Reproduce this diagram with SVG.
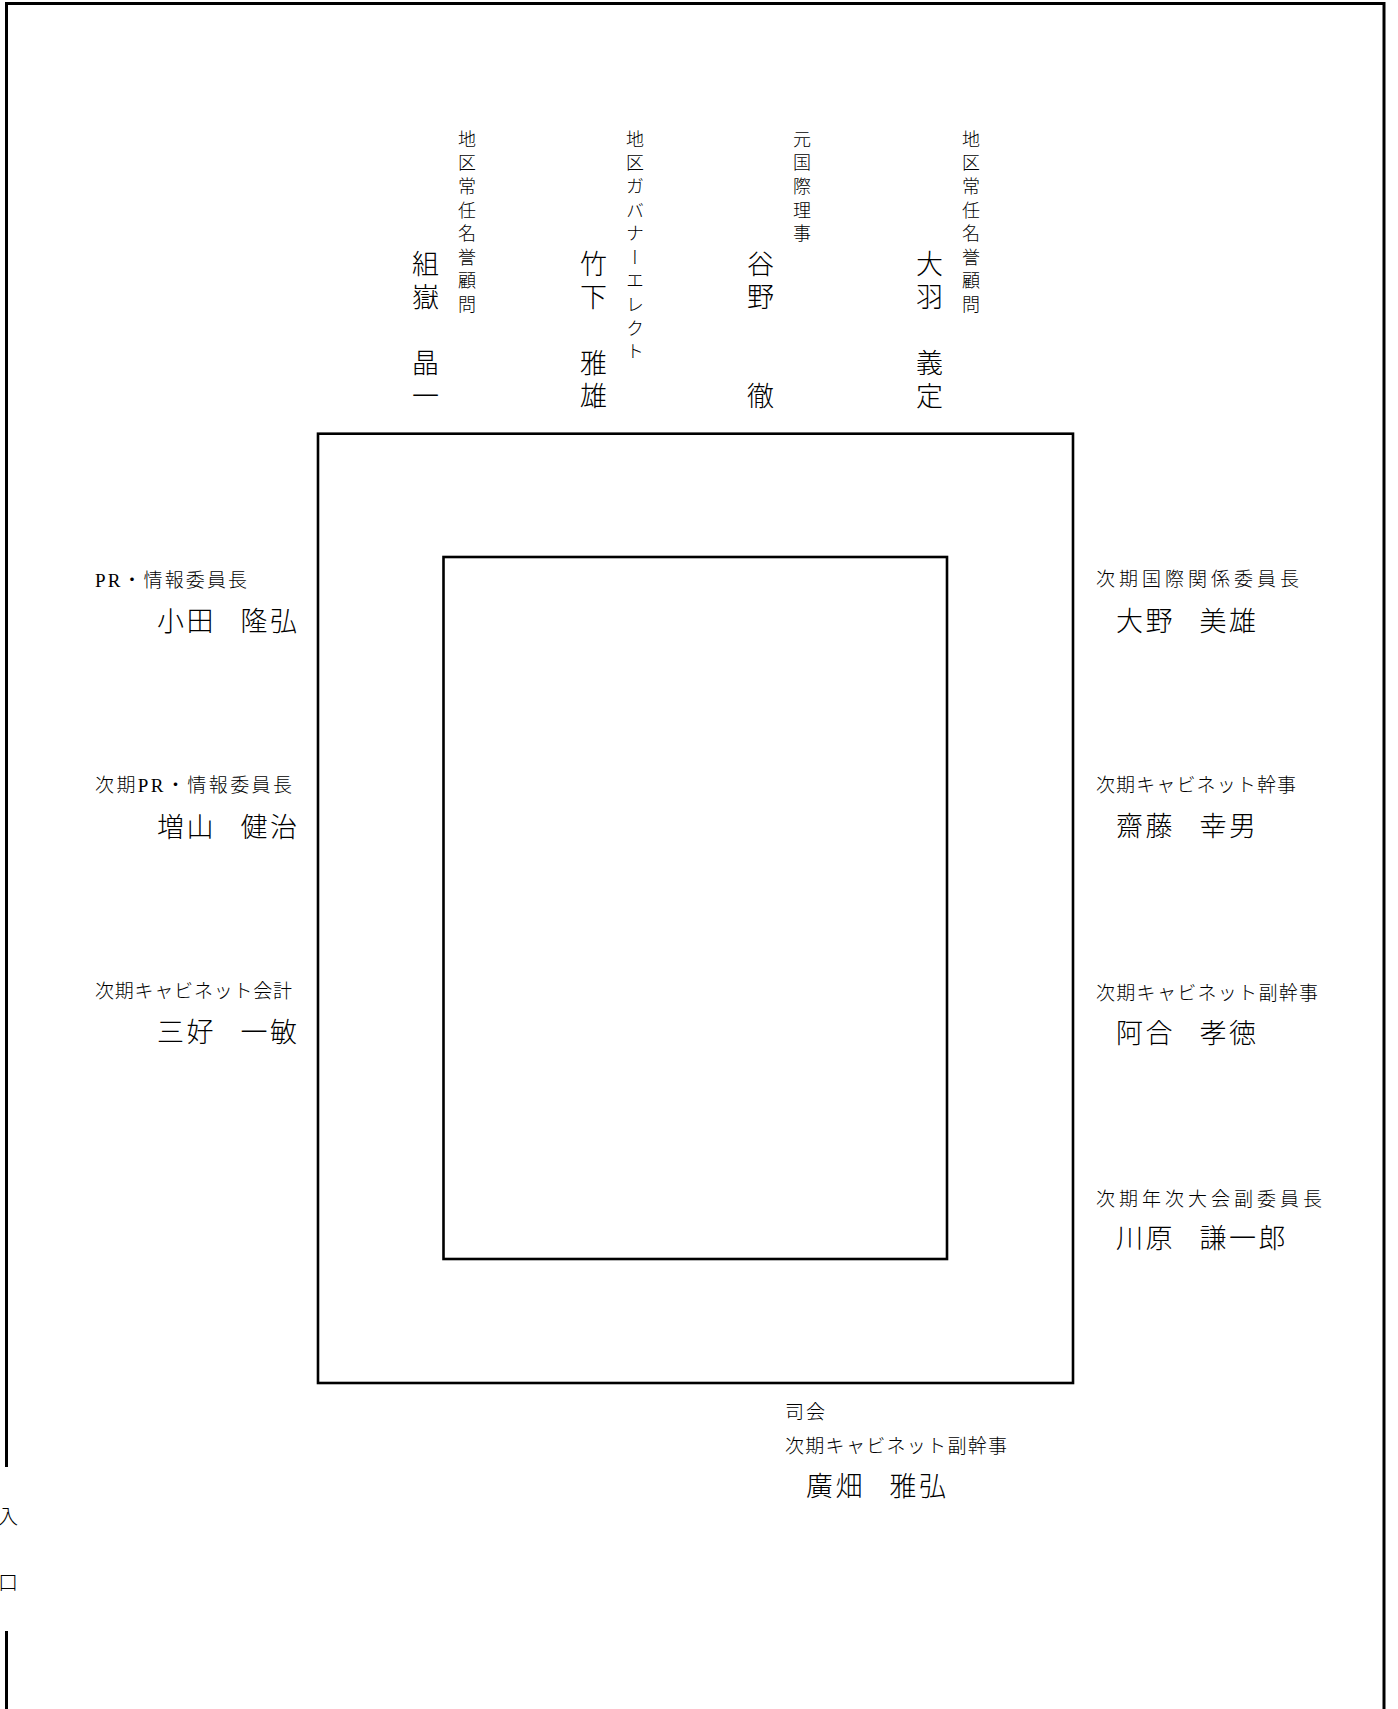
<svg xmlns="http://www.w3.org/2000/svg" width="1398" height="1709" viewBox="0 0 1398 1709">
<style>
  text { font-family: "Liberation Serif", "Noto Sans CJK JP", serif; fill: #000; font-weight: 300; }
  .role { font-size: 19px; }
  .name { font-size: 27px; letter-spacing: 2.5px; }
  .vrole { font-size: 18px; writing-mode: vertical-rl; letter-spacing: 5.6px; }
  .vname { font-size: 27px; writing-mode: vertical-rl; letter-spacing: 6px; }
  .wall { fill: none; stroke: #000; stroke-width: 3; }
  .table { fill: none; stroke: #000; stroke-width: 2.6; }
  .ent { font-size: 20px; text-anchor: middle; }
</style>
<rect width="1398" height="1709" fill="#fff"/>
<g id="room">
  <path class="wall" d="M6.5,1467 V3.5 H1384 V1709"/>
  <path class="wall" d="M6.5,1631 V1709"/>
  <text class="ent" x="8" y="1524">入</text>
  <text class="ent" x="8" y="1590">口</text>
</g>
<g id="table-outer"><rect class="table" x="318" y="433.7" width="755" height="949.3"/></g>
<g id="table-inner"><rect class="table" x="443.5" y="557" width="503.5" height="702"/></g>
<g id="head-1">
  <text class="vrole" x="465" y="130">地区常任名誉顧問</text>
  <text class="vname" x="423" y="250">組嶽　晶一</text>
</g>
<g id="head-2">
  <text class="vrole" x="633" y="130">地区ガバナーエレクト</text>
  <text class="vname" x="591" y="250">竹下　雅雄</text>
</g>
<g id="head-3">
  <text class="vrole" x="800" y="130">元国際理事</text>
  <text class="vname" x="758" y="250">谷野　　徹</text>
</g>
<g id="head-4">
  <text class="vrole" x="969" y="130">地区常任名誉顧問</text>
  <text class="vname" x="927" y="250">大羽　義定</text>
</g>
<g id="left-1">
  <text class="role" x="95" y="587" textLength="152" lengthAdjust="spacing">PR・情報委員長</text>
  <text class="name" x="157" y="631">小田<tspan dx="-5">　</tspan>隆弘</text>
</g>
<g id="left-2">
  <text class="role" x="95" y="792" textLength="197" lengthAdjust="spacing">次期PR・情報委員長</text>
  <text class="name" x="157" y="837">増山<tspan dx="-5">　</tspan>健治</text>
</g>
<g id="left-3">
  <text class="role" x="95" y="998" textLength="197" lengthAdjust="spacing">次期キャビネット会計</text>
  <text class="name" x="157" y="1042">三好<tspan dx="-5">　</tspan>一敏</text>
</g>
<g id="right-1">
  <text class="role" x="1096" y="586" textLength="203" lengthAdjust="spacing">次期国際関係委員長</text>
  <text class="name" x="1116" y="631">大野<tspan dx="-5">　</tspan>美雄</text>
</g>
<g id="right-2">
  <text class="role" x="1096" y="792" textLength="200" lengthAdjust="spacing">次期キャビネット幹事</text>
  <text class="name" x="1116" y="836">齋藤<tspan dx="-5">　</tspan>幸男</text>
</g>
<g id="right-3">
  <text class="role" x="1096" y="1000" textLength="222" lengthAdjust="spacing">次期キャビネット副幹事</text>
  <text class="name" x="1116" y="1043">阿合<tspan dx="-5">　</tspan>孝徳</text>
</g>
<g id="right-4">
  <text class="role" x="1096" y="1206" textLength="226" lengthAdjust="spacing">次期年次大会副委員長</text>
  <text class="name" x="1116" y="1248">川原<tspan dx="-5">　</tspan>謙一郎</text>
</g>
<g id="mc">
  <text class="role" x="785" y="1419" textLength="40" lengthAdjust="spacing">司会</text>
  <text class="role" x="785" y="1453" textLength="222" lengthAdjust="spacing">次期キャビネット副幹事</text>
  <text class="name" x="806" y="1496">廣畑<tspan dx="-5">　</tspan>雅弘</text>
</g>
</svg>
